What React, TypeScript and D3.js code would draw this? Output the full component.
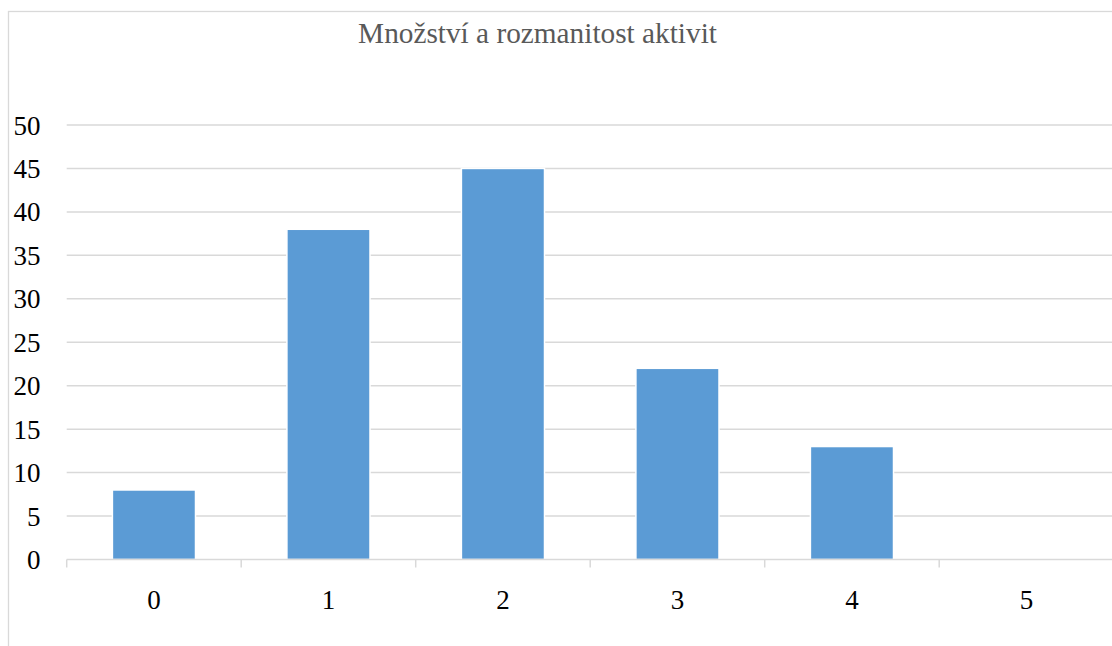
import { useEffect, useRef } from 'react'
import * as d3 from 'd3'

const categories = ['0', '1', '2', '3', '4', '5']
const counts = [8, 38, 45, 22, 13, 0]
const yTicks = [0, 5, 10, 15, 20, 25, 30, 35, 40, 45, 50]
const title = 'Množství a rozmanitost aktivit'

export default function App() {
  const svgRef = useRef<SVGSVGElement>(null)

  useEffect(() => {
    if (!svgRef.current) return
    const svg = d3.select(svgRef.current)
    svg.selectAll('*').remove()

    const left = 66.7
    const right = left + 174.5 * 6
    const top = 125
    const bottom = 559.5
    const font = "'Liberation Serif', Times, 'Nimbus Roman', 'DejaVu Serif', serif"

    // chart frame (runs past the right/bottom edge)
    svg.append('rect')
      .attr('x', 8.5).attr('y', 11.5)
      .attr('width', 1130).attr('height', 700)
      .attr('fill', '#fff')
      .attr('stroke', '#d9d9d9')
      .attr('stroke-width', 1.3)

    const t = svg.append('text')
      .attr('x', 537.5).attr('y', 43)
      .attr('text-anchor', 'middle')
      .style('font-family', font)
      .style('font-size', '28px')
      .attr('fill', '#595959')
      .text(title)
    const tw = (t.node() as SVGTextElement).getComputedTextLength()
    if (tw > 0) t.style('font-size', `${28 * 359 / tw}px`)

    const x = d3.scaleBand<string>()
      .domain(categories)
      .range([left, right])
      .paddingInner(1.1 / 2.1)
      .paddingOuter(1.1 / 4.2)

    const y = d3.scaleLinear().domain([0, 50]).range([bottom, top])

    // gridlines
    svg.append('g')
      .selectAll('line')
      .data(yTicks.filter(d => d > 0))
      .join('line')
      .attr('x1', left).attr('x2', right)
      .attr('y1', d => y(d)).attr('y2', d => y(d))
      .attr('stroke', '#d9d9d9')
      .attr('stroke-width', 1.5)

    // bars
    svg.append('g')
      .selectAll('rect')
      .data(counts.map((v, i) => ({ c: categories[i], v })))
      .join('rect')
      .attr('x', d => x(d.c) as number)
      .attr('width', x.bandwidth())
      .attr('y', d => y(d.v))
      .attr('height', d => bottom - y(d.v))
      .attr('fill', '#5b9bd5')
      .attr('stroke', '#fff')
      .attr('stroke-width', d => (d.v > 0 ? 1.5 : 0))

    // x axis line and ticks
    const step = x.step()
    const ax = svg.append('g')
    ax.append('line')
      .attr('x1', left).attr('x2', right)
      .attr('y1', bottom).attr('y2', bottom)
      .attr('stroke', '#d9d9d9').attr('stroke-width', 1.5)
    ax.selectAll('line.tick')
      .data(d3.range(categories.length + 1))
      .join('line')
      .attr('class', 'tick')
      .attr('x1', i => left + i * step).attr('x2', i => left + i * step)
      .attr('y1', bottom).attr('y2', bottom + 8)
      .attr('stroke', '#d9d9d9').attr('stroke-width', 1.5)
    ax.selectAll('text')
      .data(categories)
      .join('text')
      .attr('x', d => (x(d) as number) + x.bandwidth() / 2)
      .attr('y', 609)
      .attr('text-anchor', 'middle')
      .style('font-family', font)
      .style('font-size', '27px')
      .attr('fill', '#000')
      .text(d => d)

    // y labels
    svg.append('g')
      .selectAll('text')
      .data(yTicks)
      .join('text')
      .attr('x', 40.5)
      .attr('y', d => y(d) + 9.5)
      .attr('text-anchor', 'end')
      .style('font-family', font)
      .style('font-size', '27px')
      .attr('fill', '#000')
      .text(d => d)
  }, [])

  return (
    <svg
      ref={svgRef}
      width={1112}
      height={646}
      style={{ position: 'absolute', left: 0, top: 0, background: '#fff' }}
    />
  )
}
